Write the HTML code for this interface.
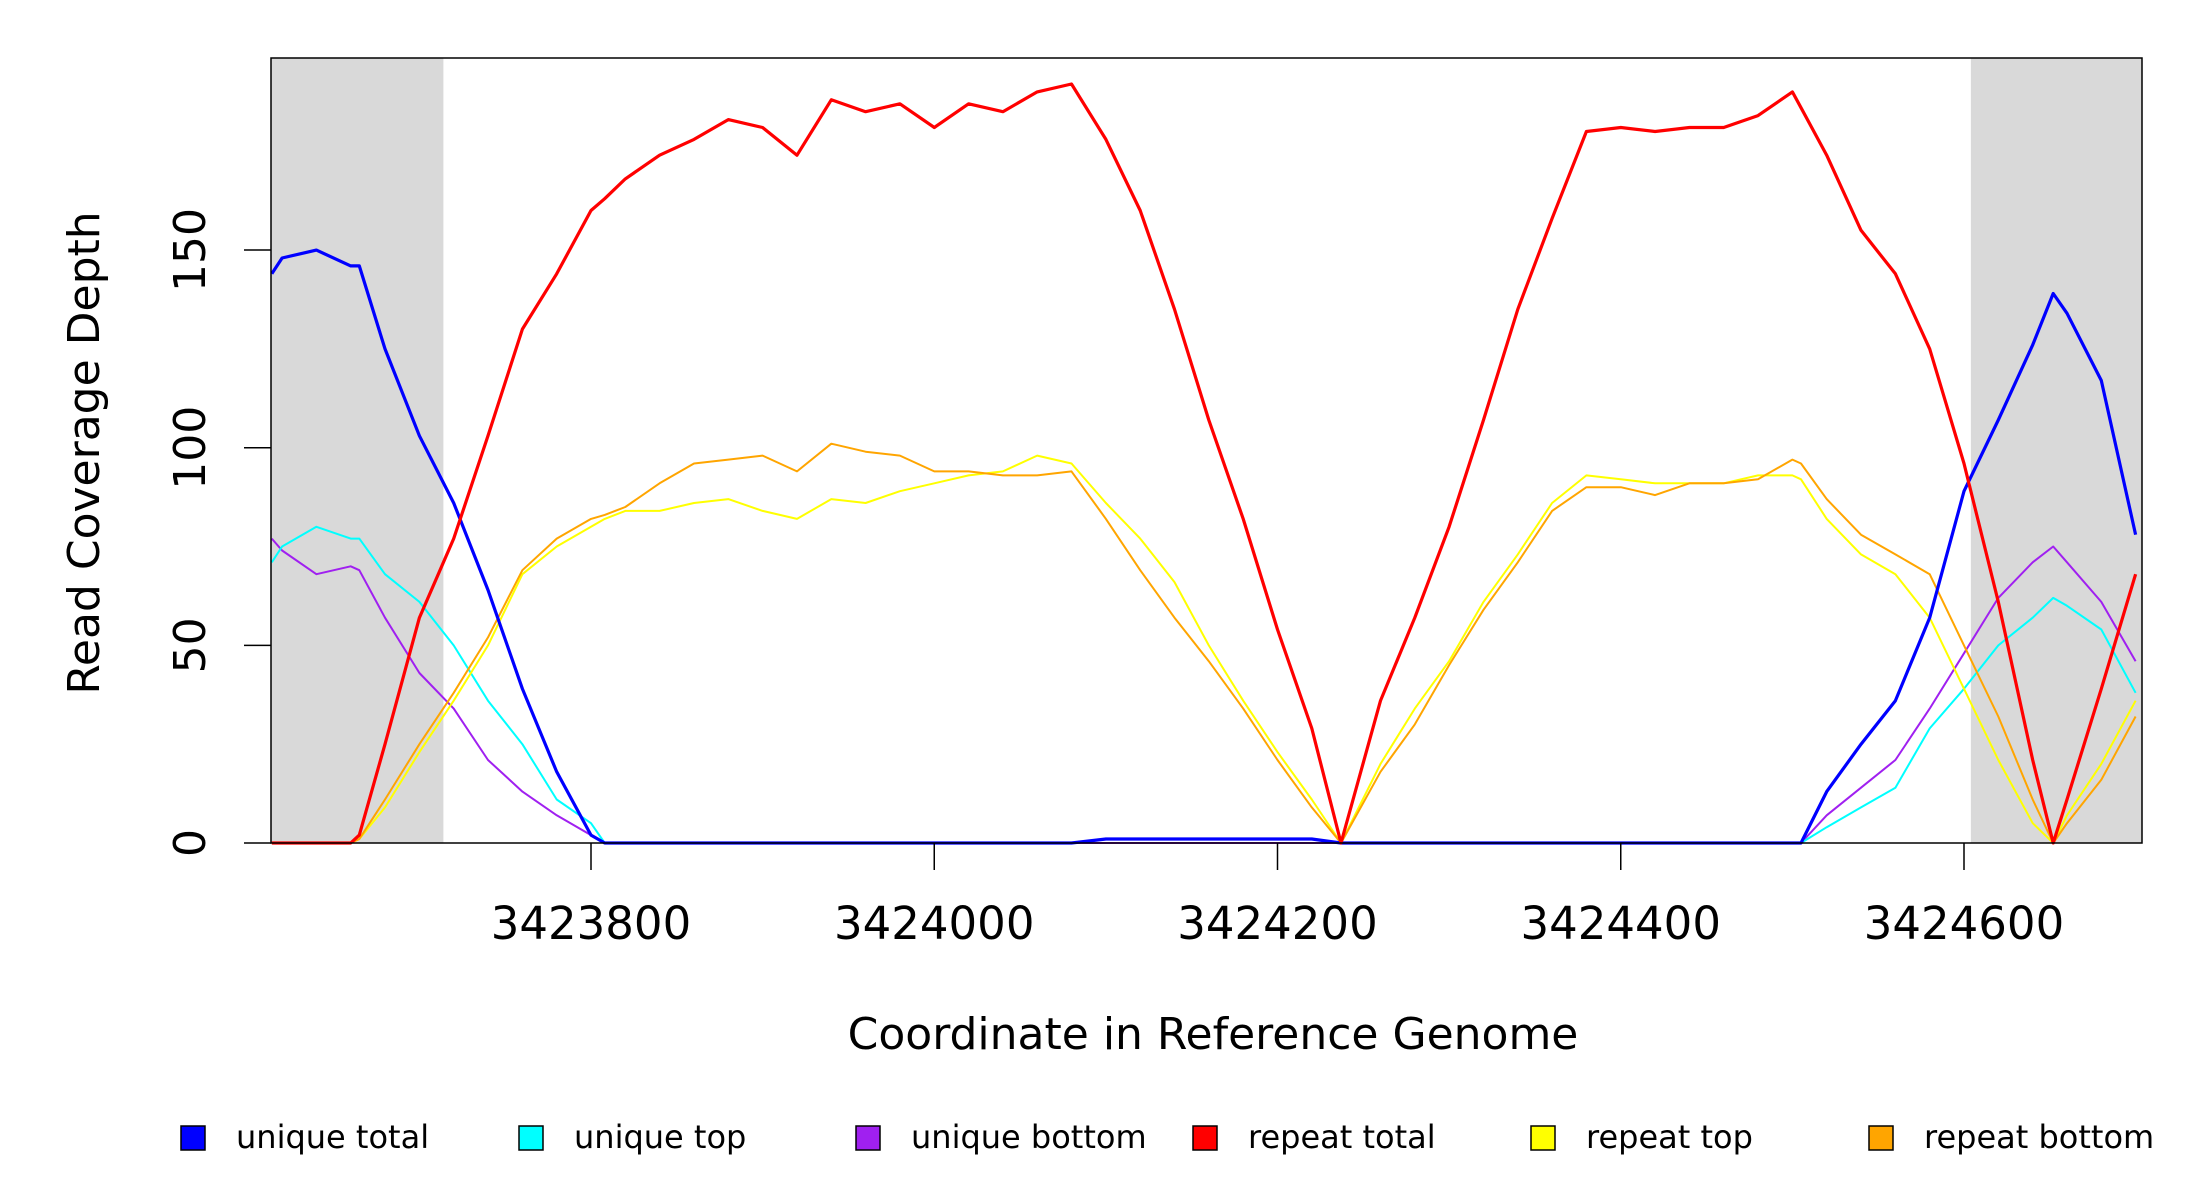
<!DOCTYPE html>
<html><head><meta charset="utf-8"><style>
html,body{margin:0;padding:0;background:#fff;}
svg{display:block;font-family:"DejaVu Sans","Liberation Sans",sans-serif;}
</style></head><body>
<svg id="chart" width="2200" height="1200" viewBox="0 0 2200 1200" xmlns="http://www.w3.org/2000/svg">
<rect x="0" y="0" width="2200" height="1200" fill="#fff"/>
<g id="plot"></g>
<text x="87" y="453" font-size="44" text-anchor="middle" dominant-baseline="middle" transform="rotate(-90 87 453)">Read Coverage Depth</text>
<text x="1213" y="1037" font-size="44" text-anchor="middle" dominant-baseline="middle">Coordinate in Reference Genome</text>
<g id="legend"></g>
</svg>
<script>
const coords=[3423614,3423620,3423640,3423660,3423665,3423680,3423700,3423720,3423740,3423760,3423780,3423800,3423808,3423820,3423840,3423860,3423880,3423900,3423920,3423940,3423960,3423980,3424000,3424020,3424040,3424060,3424080,3424100,3424120,3424140,3424160,3424180,3424200,3424220,3424237,3424260,3424280,3424300,3424320,3424340,3424360,3424380,3424400,3424420,3424440,3424460,3424480,3424500,3424505,3424520,3424540,3424560,3424580,3424600,3424620,3424640,3424652,3424660,3424680,3424700];
const repeatTotal=[0,0,0,0,2,25,57,77,103,130,144,160,163,168,174,178,183,181,174,188,185,187,181,187,185,190,192,178,160,135,107,82,54,29,0,36,57,80,107,135,158,180,181,180,181,181,184,190,186,174,155,144,125,96,61,21,0,11,39,68];
const uniqueTotal=[144,148,150,146,146,125,103,86,64,39,18,2,0,0,0,0,0,0,0,0,0,0,0,0,0,0,0,1,1,1,1,1,1,1,0,0,0,0,0,0,0,0,0,0,0,0,0,0,0,13,25,36,57,89,107,126,139,134,117,78];
const uniqueTop=[71,75,80,77,77,68,61,50,36,25,11,5,0,0,0,0,0,0,0,0,0,0,0,0,0,0,0,1,1,1,1,1,1,1,0,0,0,0,0,0,0,0,0,0,0,0,0,0,0,4,9,14,29,39,50,57,62,60,54,38];
const uniqueBottom=[77,74,68,70,69,57,43,34,21,13,7,2,0,0,0,0,0,0,0,0,0,0,0,0,0,0,0,0,0,0,0,0,0,0,0,0,0,0,0,0,0,0,0,0,0,0,0,0,0,7,14,21,34,48,62,71,75,71,61,46];
const repeatTop=[0,0,0,0,1,9,23,36,50,68,75,80,82,84,84,86,87,84,82,87,86,89,91,93,94,98,96,86,77,66,50,36,23,11,0,20,34,46,61,73,86,93,92,91,91,91,93,93,92,82,73,68,57,39,21,5,0,7,20,36];
const repeatBottom=[0,0,0,0,1,11,25,38,52,69,77,82,83,85,91,96,97,98,94,101,99,98,94,94,93,93,94,82,69,57,46,34,21,9,0,18,30,45,59,71,84,90,90,88,91,91,92,97,96,87,78,73,68,50,32,11,0,5,16,32];
const xTicks=[3423800,3424000,3424200,3424400,3424600];
const yTicks=[0,50,100,150];
const legendLabels=["unique total","unique top","unique bottom","repeat total","repeat top","repeat bottom"];
const legendColors=["#0000ff","#00ffff","#a020f0","#ff0000","#ffff00","#ffa500"];

const NS="http://www.w3.org/2000/svg";
const L=271,R=2142,T=58,B=843;
function xs(c){return 591+(c-3423800)*1.71625;}
function ys(v){return 843-v*3.953;}
function mk(tag,attrs,parent){const e=document.createElementNS(NS,tag);for(const k in attrs)e.setAttribute(k,attrs[k]);parent.appendChild(e);return e;}
const plot=document.getElementById('plot');
const g1=mk('rect',{x:L,y:T,width:xs(3423714)-L,height:B-T,fill:'#d9d9d9'},plot);


const g2=mk('rect',{x:xs(3424604),y:T,width:R-xs(3424604),height:B-T,fill:'#d9d9d9'},plot);



const series=[
 ['unique-bottom-line',uniqueBottom,'#a020f0',2],
 ['unique-top-line',uniqueTop,'#00ffff',2],
 ['repeat-top-line',repeatTop,'#ffff00',2],
 ['repeat-bottom-line',repeatBottom,'#ffa500',2],
 ['unique-total-line',uniqueTotal,'#0000ff',3.2],
 ['repeat-total-line',repeatTotal,'#ff0000',3.2]
];
series.forEach(s=>{
 const pts=coords.map((c,i)=>xs(c).toFixed(1)+','+ys(s[1][i]).toFixed(1)).join(' ');
 const p=mk('polyline',{points:pts,fill:'none',stroke:s[2],'stroke-width':s[3],'stroke-linejoin':'round'},plot);
 
 
});
const box=mk('rect',{x:L,y:T,width:R-L,height:B-T,fill:'none',stroke:'#000','stroke-width':1.5},plot);



xTicks.forEach(t=>{
 const x=xs(t);
 const tk=mk('line',{x1:x,y1:B,x2:x,y2:B+27,stroke:'#000','stroke-width':1.5},plot);
 
 
 const tx=mk('text',{x:x,y:939,'font-size':45,'text-anchor':'middle'},plot);
 tx.textContent=String(t);
 
 
});
yTicks.forEach(t=>{
 const y=ys(t);
 const tk=mk('line',{x1:L-27,y1:y,x2:L,y2:y,stroke:'#000','stroke-width':1.5},plot);
 
 
 const tx=mk('text',{x:193,y:y,'font-size':44,'text-anchor':'middle','dominant-baseline':'middle',transform:'rotate(-90 193 '+y+')'},plot);
 tx.textContent=String(t);
 
 
});
const lg=document.getElementById('legend');
const lx=[181,519,856,1193,1531,1869];
legendLabels.forEach((lab,i)=>{
 const r=mk('rect',{x:lx[i],y:1126,width:24,height:24,fill:legendColors[i],stroke:'#000','stroke-width':1.5},lg);
 
 
 const t=mk('text',{x:lx[i]+55,y:1139,'font-size':32,'dominant-baseline':'middle'},lg);
 t.textContent=lab;
 
 
});
</script>
</body></html>
